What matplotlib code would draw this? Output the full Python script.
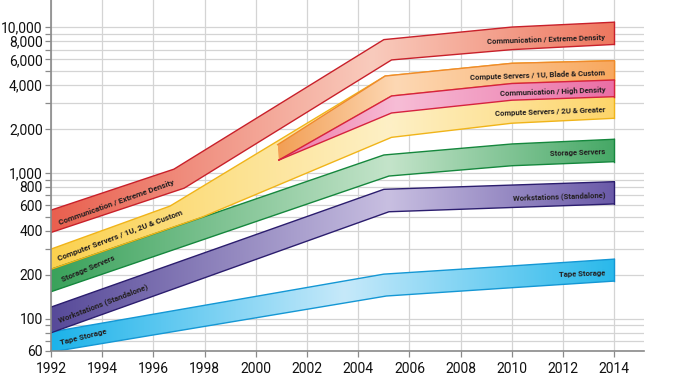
import numpy as np
import matplotlib
matplotlib.use("Agg")
import matplotlib.pyplot as plt
from matplotlib.colors import LinearSegmentedColormap
from matplotlib.ticker import FixedLocator, FixedFormatter, NullFormatter

# band edges (year, value); log y axis
ced_top_x = [1992, 1996.8, 2005.0, 2010, 2014]
ced_top_y = [555, 1060, 8200, 10000, 10800]
ced_bot_x = [1992, 1997.2, 2005.3, 2010, 2014]
ced_bot_y = [390, 785, 5950, 7000, 7600]

srv_top_x = [1992, 1996.65, 2005.05, 2010, 2014]
srv_top_y = [300, 592, 4614, 5640, 5880]
srv_bot_x = [1992, 1997.9, 2005.3, 2010, 2014]
srv_bot_y = [218, 497, 1752, 2190, 2367]

blade_top_x = [2000.85, 2005.05, 2010, 2014]
blade_top_y = [1560, 4614, 5640, 5880]

chd_top_x = [2000.9, 2005.3, 2010, 2014]
chd_top_y = [1224, 3367, 4100, 4333]
chd_bot_x = [2000.9, 2005.3, 2010, 2014]
chd_bot_y = [1224, 2574, 3150, 3330]

sto_top_x = [1992, 2005.0, 2010, 2014]
sto_top_y = [218, 1326, 1578, 1700]
sto_bot_x = [1992, 2005.2, 2010, 2014]
sto_bot_y = [153, 951, 1119, 1193]

wks_top_x = [1992, 2005.0, 2014]
wks_top_y = [120, 771, 870]
wks_bot_x = [1992, 2005.2, 2014]
wks_bot_y = [80, 541, 612]

tape_top_x = [1992, 2005.0, 2010, 2014]
tape_top_y = [81, 202, 230, 256]
tape_bot_x = [1992, 2005.1, 2010, 2014]
tape_bot_y = [59, 143, 163, 181]

years = [1992, 1994, 1996, 1998, 2000, 2002, 2004, 2006, 2008, 2010, 2012, 2014]
y_major = [60, 100, 200, 400, 600, 800, 1000, 2000, 4000, 6000, 8000, 10000]
y_major_labels = ["60", "100", "200", "400", "600", "800", "1,000", "2,000",
                  "4,000", "6,000", "8,000", "10,000"]
y_minor = [70, 80, 90, 300, 500, 700, 900, 3000, 5000, 7000, 9000]

font = ["Roboto", "DejaVu Sans"]

fig = plt.figure(figsize=(6.74, 3.79), dpi=100)
ax = fig.add_axes([51 / 674, 1 - 351 / 379, 593 / 674, 351 / 379])
ax.set_yscale("log")


def band(xt, yt, xb, yb, colors, stops, edge, z=2):
    xt, yt, xb, yb = map(np.asarray, (xt, yt, xb, yb))
    poly = ax.fill(np.r_[xt, xb[::-1]], np.r_[yt, yb[::-1]],
                   facecolor="none", edgecolor="none", zorder=z)[0]
    cmap = LinearSegmentedColormap.from_list("b", list(zip(stops, colors)))
    grad = np.linspace(0, 1, 256).reshape(1, -1)
    im = ax.imshow(grad, cmap=cmap, aspect="auto", origin="lower",
                   extent=[xt[0], xt[-1], 40, 30000],
                   interpolation="bilinear", zorder=z)
    im.set_clip_path(poly)
    ax.plot(xt, yt, color=edge, lw=1.0, zorder=z + 0.1)
    ax.plot(xb, yb, color=edge, lw=1.0, zorder=z + 0.1)
    ax.plot([xt[-1], xb[-1]], [yt[-1], yb[-1]], color=edge, lw=1.0, zorder=z + 0.1)


band(tape_top_x, tape_top_y, tape_bot_x, tape_bot_y,
     ["#1cb3ea", "#c6e9fa", "#2ab9eb"], [0, 0.52, 1], "#1497d4")
band(wks_top_x, wks_top_y, wks_bot_x, wks_bot_y,
     ["#574a99", "#c8bfe1", "#6a5aa8"], [0, 0.6, 1], "#2b1d6e")
band(sto_top_x, sto_top_y, sto_bot_x, sto_bot_y,
     ["#3aa25b", "#c4e4ca", "#46a866"], [0, 0.6, 1], "#15873d")
band(srv_top_x, srv_top_y, srv_bot_x, srv_bot_y,
     ["#fbd14f", "#fef0c6", "#fdd56a"], [0, 0.6, 1], "#f0b419")
band(blade_top_x, blade_top_y, chd_top_x, chd_top_y,
     ["#f29f55", "#fdd8b4", "#f8a85e"], [0, 0.35, 1], "#ef8a2c", z=3)
band(chd_top_x, chd_top_y, chd_bot_x, chd_bot_y,
     ["#ee78a8", "#f7bdd6", "#ea6ea5"], [0, 0.35, 1], "#d6223f", z=3.5)
band(ced_top_x, ced_top_y, ced_bot_x, ced_bot_y,
     ["#e9604f", "#f9cbbd", "#ee775f"], [0, 0.57, 1], "#c8202a")

# labels along the left side of each band
left_labels = [
    ("Communication / Extreme Density", 1994.55, 630, 19.5),
    ("Computer Servers / 1U, 2U & Custom", 1994.7, 375, 20.5),
    ("Storage Servers", 1993.45, 219, 23),
    ("Workstations (Standalone)", 1994.05, 128, 21),
    ("Tape Storage", 1993.25, 75, 14),
]
for txt, x, y, rot in left_labels:
    ax.text(x, y, txt, ha="center", va="center", rotation=rot,
            rotation_mode="anchor", fontsize=5.8, family=font,
            fontweight="bold", color="#231f20", zorder=6)

right_labels = [
    ("Communication / Extreme Density", 8550),
    ("Compute Servers / 1U, Blade & Custom", 4840),
    ("Communication / High Density", 3700),
    ("Compute Servers / 2U & Greater", 2700),
    ("Storage Servers", 1390),
    ("Workstations (Standalone)", 705),
    ("Tape Storage", 206),
]
for txt, y in right_labels:
    ax.text(2013.65, y, txt, ha="right", va="center", rotation=2,
            rotation_mode="anchor", fontsize=5.6, family=font,
            fontweight="bold", color="#231f20", zorder=6)

ax.set_xlim(1992, 2015.16)
ax.set_ylim(60, 15330)
ax.set_xticks(years)
ax.set_xticklabels([str(y) for y in years])
ax.yaxis.set_major_locator(FixedLocator(y_major))
ax.yaxis.set_major_formatter(FixedFormatter(y_major_labels))
ax.yaxis.set_minor_locator(FixedLocator(y_minor))
ax.yaxis.set_minor_formatter(NullFormatter())

ax.grid(True, which="both", color="#d4d4d4", lw=0.9, zorder=0)
ax.set_axisbelow(True)
for s in ["top", "right"]:
    ax.spines[s].set_visible(False)
for s in ["left", "bottom"]:
    ax.spines[s].set_color("#8a8a8a")
    ax.spines[s].set_linewidth(1.2)
ax.tick_params(which="both", length=4, width=0.9, color="#8a8a8a", pad=2)
ax.tick_params(axis="x", pad=4)
for lab in ax.get_xticklabels() + ax.get_yticklabels():
    lab.set_family(font)
    lab.set_fontsize(10)
    lab.set_color("#111111")

fig.savefig("out.png", dpi=100)
